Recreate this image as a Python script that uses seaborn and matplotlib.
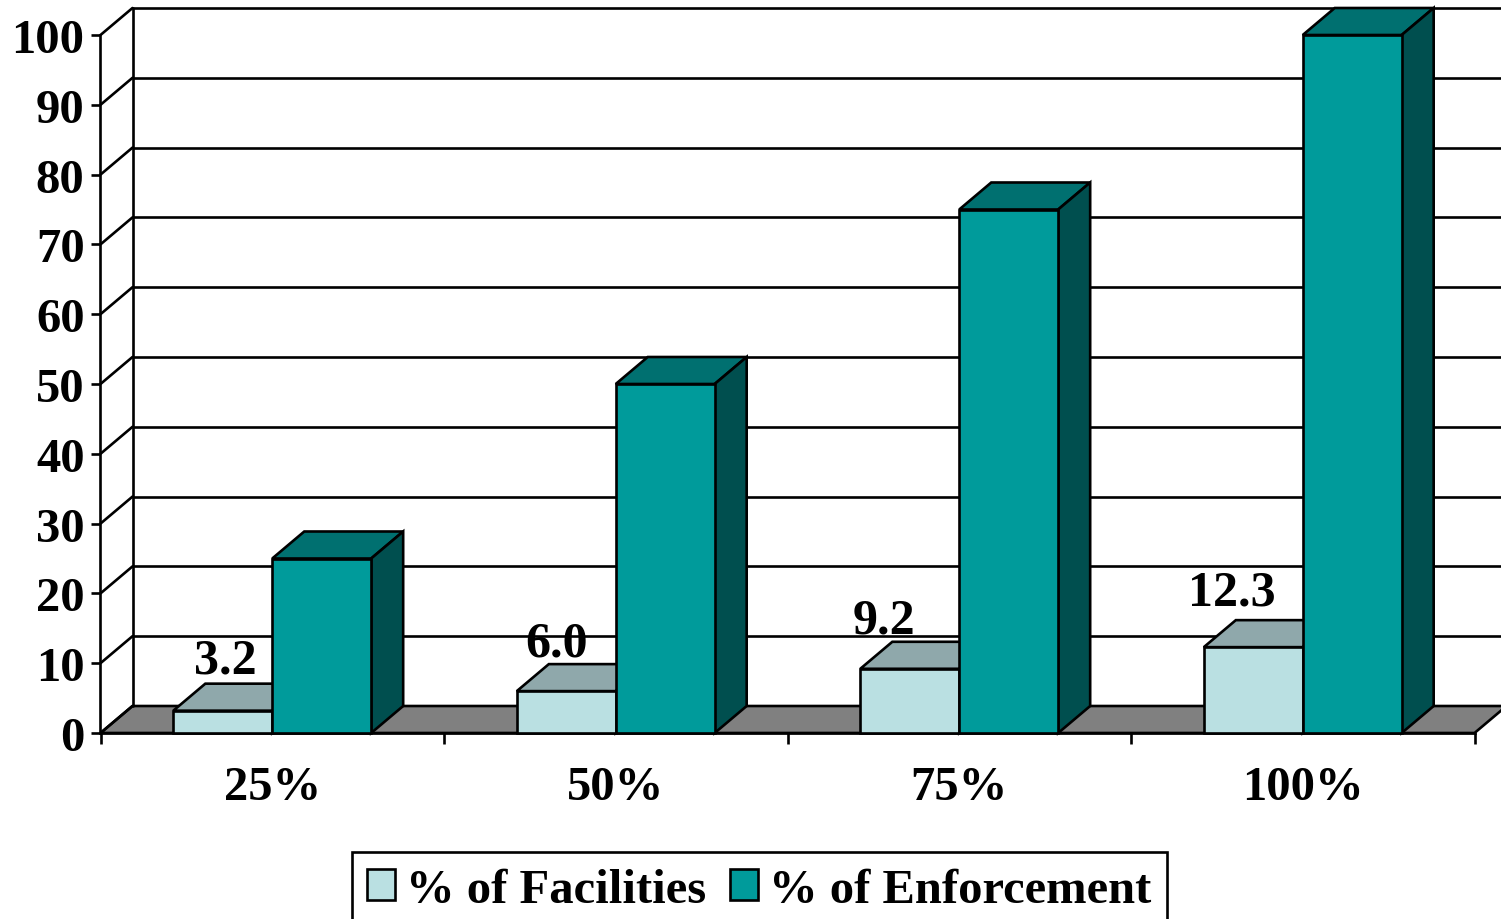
import pandas as pd
import matplotlib
matplotlib.use("Agg")
import matplotlib.pyplot as plt
from matplotlib.patches import Polygon
import seaborn as sns

# values
categories = ["25%", "50%", "75%", "100%"]
series_names = ["% of Facilities", "% of Enforcement"]
facilities = [3.2, 6.0, 9.2, 12.3]
enforcement = [25, 50, 75, 100]
y_ticks = [0, 10, 20, 30, 40, 50, 60, 70, 80, 90, 100]

# label offsets from the bar top, in pixels (x, y)
label_shift = [(3, 38), (-10, 36), (-26, 36), (-21, 43)]

W, H = 1501, 920
LEFT, RIGHT, Y0, Y100 = 100.5, 1474.5, 734, 36
DEPTH_X, DEPTH_Y = 32, 27
LW = 1.9

C_LIGHT, C_LIGHT_TOP = "#BAE0E2", "#8FA8AB"
C_TEAL, C_TEAL_TOP, C_TEAL_SIDE = "#009B9B", "#007070", "#004F4F"
C_FLOOR = "#808080"

sns.set_theme(style="white")
plt.rcParams["font.family"] = ["Liberation Serif", "DejaVu Serif"]
plt.rcParams["font.weight"] = "bold"

df = pd.DataFrame({
    "cat": categories * 2,
    "series": [series_names[0]] * 4 + [series_names[1]] * 4,
    "value": facilities + enforcement,
})

fig = plt.figure(figsize=(W / 100, H / 100), dpi=100, facecolor="white")
ax = fig.add_axes([LEFT / W, 1 - Y0 / H, (RIGHT - LEFT) / W, (Y0 - Y100) / H])

sns.barplot(data=df, x="cat", y="value", hue="series", ax=ax, width=0.576,
            palette=[C_LIGHT, C_TEAL], saturation=1, edgecolor="black",
            linewidth=LW, errorbar=None)

ax.set_xlim(-0.5, 3.5)
ax.set_ylim(0, 100)
ax.set_xlabel("")
ax.set_ylabel("")

# size of the 3D depth in data units
dx = DEPTH_X * 4 / (RIGHT - LEFT)
dy = DEPTH_Y * 100 / (Y0 - Y100)
x_left = -0.5
x_far = 3.5 + dx

# floor and back wall
ax.add_patch(Polygon([(x_left, 0), (x_left + dx, dy), (x_far, dy), (3.5, 0)],
                     closed=True, fc=C_FLOOR, ec="black", lw=LW, zorder=1, clip_on=False))
for v in y_ticks:
    ax.plot([x_left, x_left + dx], [v, v + dy], color="black", lw=LW, zorder=1.5, clip_on=False)
    if v > 0:
        ax.plot([x_left + dx, x_far], [v + dy, v + dy], color="black", lw=LW, zorder=1.5, clip_on=False)
ax.plot([x_left + dx, x_left + dx], [dy, 100 + dy], color="black", lw=LW, zorder=1.5, clip_on=False)

# top and side faces of the bars
face_colors = [(C_LIGHT_TOP, C_LIGHT_TOP), (C_TEAL_TOP, C_TEAL_SIDE)]
for container, (c_top, c_side) in zip(ax.containers, face_colors):
    for bar in container:
        x0, w, h = bar.get_x(), bar.get_width(), bar.get_height()
        x1 = x0 + w
        ax.add_patch(Polygon([(x0, h), (x0 + dx, h + dy), (x1 + dx, h + dy), (x1, h)],
                             closed=True, fc=c_top, ec="black", lw=LW, zorder=2.5, clip_on=False))
        ax.add_patch(Polygon([(x1, 0), (x1 + dx, dy), (x1 + dx, h + dy), (x1, h)],
                             closed=True, fc=c_side, ec="black", lw=LW, zorder=2.5, clip_on=False))
        bar.set_zorder(3)
        bar.set_clip_on(False)

# labels above the facilities bars only
for bar, val, (sx, sy) in zip(ax.containers[0], facilities, label_shift):
    ax.annotate(f"{val:.1f}", (bar.get_x() + bar.get_width() / 2, bar.get_height()),
                xytext=(sx, sy), textcoords="offset pixels", ha="center", va="baseline",
                fontsize=36, fontweight="bold", color="black", zorder=5)

# axes and ticks: major x ticks between groups, labels on minor ticks
sns.despine(ax=ax)
for side in ["left", "bottom"]:
    ax.spines[side].set_linewidth(LW)
    ax.spines[side].set_color("black")
    ax.spines[side].set_zorder(2.2)

ax.set_yticks(y_ticks)
ax.set_xticks([-0.5, 0.5, 1.5, 2.5, 3.5])
ax.set_xticklabels([])
ax.set_xticks([0, 1, 2, 3], labels=categories, minor=True)
ax.tick_params(axis="y", which="major", left=True, length=6.5, width=LW, color="black",
               labelsize=35, pad=5, labelcolor="black")
ax.tick_params(axis="x", which="major", bottom=True, length=8, width=LW, color="black")
ax.tick_params(axis="x", which="minor", bottom=False, length=0, labelsize=35, pad=23,
               labelcolor="black")
for lab in ax.get_yticklabels() + ax.get_xticklabels(minor=True):
    lab.set_fontweight("bold")

sns.move_legend(ax, loc="upper left", bbox_to_anchor=(351.5 / W, 1 - 853 / H),
                bbox_transform=fig.transFigure, ncol=2, title=None, frameon=True,
                fontsize=35, borderaxespad=0, fancybox=False, edgecolor="black",
                framealpha=1, handlelength=0.58, handleheight=0.58, handletextpad=0.23,
                columnspacing=0.48, borderpad=0.32)
leg = ax.get_legend()
leg.get_frame().set_linewidth(LW)
leg.set_zorder(6)
for t in leg.get_texts():
    t.set_fontweight("bold")
    t.set_color("black")

fig.savefig("out.png", dpi=100)
